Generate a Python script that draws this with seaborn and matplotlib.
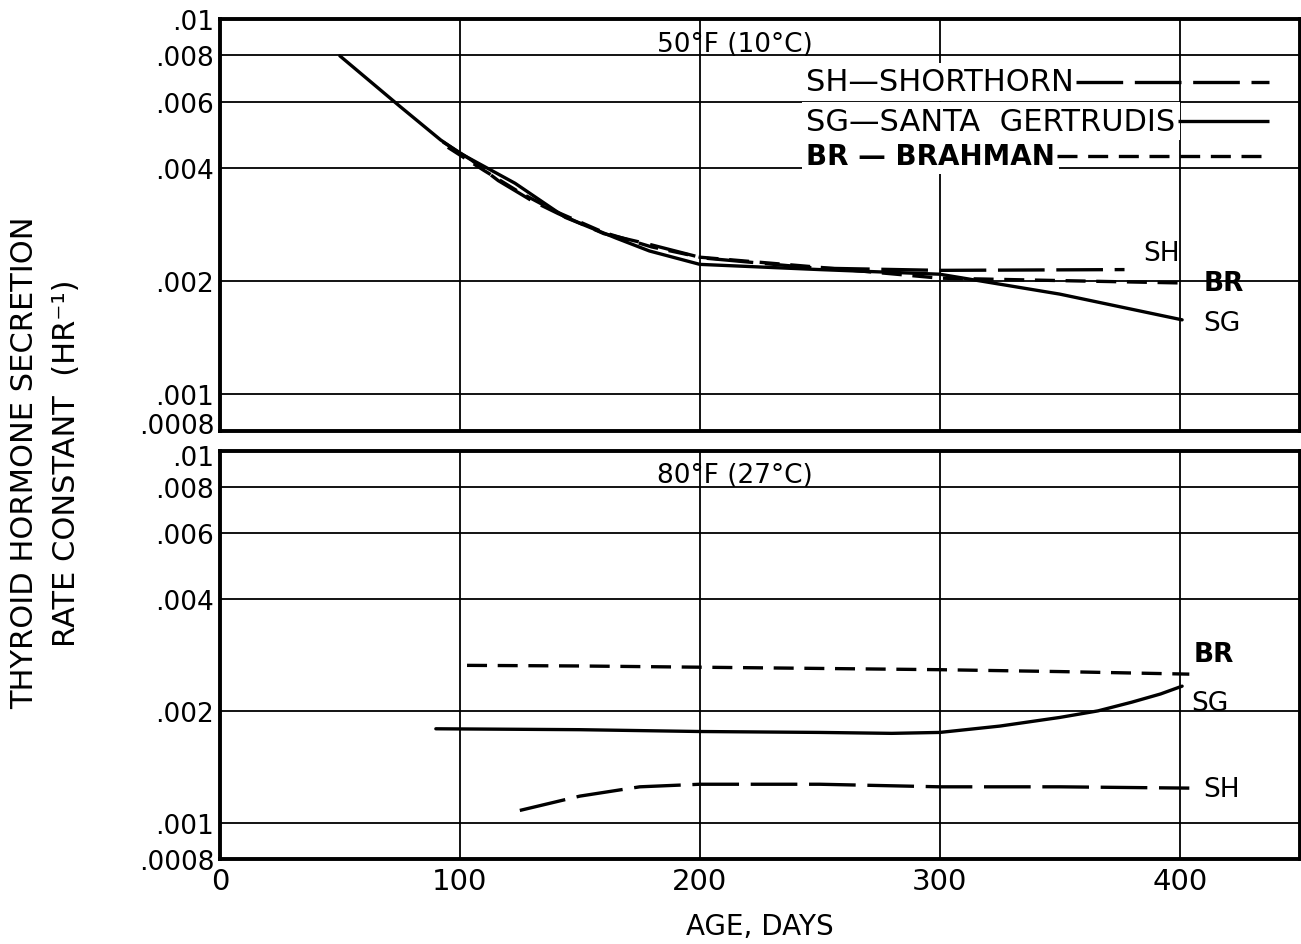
import pandas as pd
import matplotlib
matplotlib.use("Agg")
import matplotlib.pyplot as plt
from matplotlib.ticker import NullLocator
from matplotlib.transforms import ScaledTranslation
import seaborn as sns

# 50°F (10°C) panel
cold_sg_age = [50, 75, 92, 100, 123, 144, 165, 179, 200, 250, 300, 350, 401]
cold_sg_rate = [0.00797, 0.00585, 0.00476, 0.00439, 0.00365, 0.00296, 0.00261,
                0.00241, 0.00222, 0.00215, 0.00209, 0.00185, 0.00158]
cold_sh_age = [93, 105, 116, 130, 141, 160, 179, 201, 248, 300, 377]
cold_sh_rate = [0.00470, 0.00420, 0.00371, 0.00328, 0.00303, 0.00268, 0.00251,
                0.00231, 0.00217, 0.00214, 0.00215]
cold_br_age = [95, 110, 125, 140, 160, 180, 200, 250, 300, 350, 402]
cold_br_rate = [0.00455, 0.00395, 0.00345, 0.00307, 0.00270, 0.00247, 0.00232,
                0.00218, 0.00204, 0.00201, 0.00198]

# 80°F (27°C) panel
hot_br_age = [103, 150, 200, 250, 300, 350, 404]
hot_br_rate = [0.00265, 0.00264, 0.00262, 0.00260, 0.00258, 0.00255, 0.00251]
hot_sg_age = [90, 150, 200, 250, 280, 300, 325, 350, 366, 380, 392, 401]
hot_sg_rate = [0.00179, 0.00178, 0.00176, 0.00175, 0.00174, 0.00175, 0.00182,
               0.00192, 0.00200, 0.00211, 0.00222, 0.00233]
hot_sh_age = [125, 150, 175, 200, 250, 300, 350, 404]
hot_sh_rate = [0.00108, 0.00118, 0.00125, 0.00127, 0.00127, 0.00125, 0.00125, 0.00124]

y_ticks = [0.0008, 0.001, 0.002, 0.004, 0.006, 0.008, 0.01]
y_labels = [".0008", ".001", ".002", ".004", ".006", ".008", ".01"]
x_ticks = [0, 100, 200, 300, 400]

legend_rows = [("SH", "SH—SHORTHORN", "normal"),
               ("SG", "SG—SANTA  GERTRUDIS", "normal"),
               ("BR", "BR — BRAHMAN", "bold")]

def frame(age, rate, panel, breed):
    return pd.DataFrame({"age": age, "rate": rate, "panel": panel, "breed": breed})

df = pd.concat([
    frame(cold_sg_age, cold_sg_rate, "cold", "SG"),
    frame(cold_sh_age, cold_sh_rate, "cold", "SH"),
    frame(cold_br_age, cold_br_rate, "cold", "BR"),
    frame(hot_br_age, hot_br_rate, "hot", "BR"),
    frame(hot_sg_age, hot_sg_rate, "hot", "SG"),
    frame(hot_sh_age, hot_sh_rate, "hot", "SH"),
])

sns.set_style("white")
plt.rcParams["font.family"] = ["DejaVu Sans"]
plt.rcParams["text.color"] = "black"
plt.rcParams["axes.labelcolor"] = "black"

dash_map = {"SH": (14, 3.5), "SG": "", "BR": (6, 3.2)}

fig = plt.figure(figsize=(13.01, 9.45), dpi=100)
ax_top = fig.add_axes([0.169, 0.543, 0.830, 0.436])
ax_bot = fig.add_axes([0.169, 0.090, 0.830, 0.432])

for ax, panel in [(ax_top, "cold"), (ax_bot, "hot")]:
    sns.lineplot(data=df[df["panel"] == panel], x="age", y="rate", style="breed",
                 dashes=dash_map, color="black", linewidth=2.4, legend=False,
                 estimator=None, sort=True, ax=ax, zorder=4)
    ax.set_yscale("log")
    ax.set_ylim(0.0008, 0.01)
    ax.set_xlim(0, 450)
    ax.set_yticks(y_ticks)
    ax.set_yticklabels(y_labels)
    ax.yaxis.set_minor_locator(NullLocator())
    ax.set_xticks(x_ticks)
    ax.grid(True, color="black", linewidth=1.3)
    ax.tick_params(length=0, pad=4, colors="black")
    ax.tick_params(axis="x", labelsize=21, pad=6)
    ax.tick_params(axis="y", labelsize=19)
    for s in ax.spines.values():
        s.set_visible(True)
        s.set_color("black")
        s.set_linewidth(2.8)
    ax.set_xlabel("")
    ax.set_ylabel("")

ax_top.tick_params(labelbottom=False)
# nudge the labels that meet between the two panels
lab = ax_top.get_yticklabels()[0]
lab.set_transform(lab.get_transform() + ScaledTranslation(0, 8 / 100, fig.dpi_scale_trans))
lab = ax_bot.get_yticklabels()[-1]
lab.set_transform(lab.get_transform() + ScaledTranslation(0, -4 / 100, fig.dpi_scale_trans))
ax_bot.set_xlabel("AGE, DAYS", fontsize=20, labelpad=12)

ax_top.text(0.477, 0.94, "50°F (10°C)", transform=ax_top.transAxes,
            ha="center", va="center", fontsize=19)
ax_bot.text(0.477, 0.94, "80°F (27°C)", transform=ax_bot.transAxes,
            ha="center", va="center", fontsize=19)

# curve labels
ax_top.text(385, 0.00238, "SH", fontsize=19, ha="left", va="center")
ax_top.text(410, 0.00198, "BR", fontsize=19, ha="left", va="center", fontweight="bold")
ax_top.text(410, 0.00155, "SG", fontsize=19, ha="left", va="center")
ax_bot.text(406, 0.00284, "BR", fontsize=19, ha="left", va="center", fontweight="bold")
ax_bot.text(405, 0.00210, "SG", fontsize=19, ha="left", va="center")
ax_bot.text(410, 0.00123, "SH", fontsize=19, ha="left", va="center")

# legend block
row_y = [0.847, 0.752, 0.667]
texts = []
for (breed, label, weight), y in zip(legend_rows, row_y):
    t = ax_top.text(0.543, y, label, transform=ax_top.transAxes, ha="left",
                    va="center", fontsize=22 if weight == "normal" else 20,
                    fontweight=weight, zorder=5,
                    bbox=dict(facecolor="white", edgecolor="none", pad=3))
    texts.append(t)
fig.canvas.draw()
renderer = fig.canvas.get_renderer()
inv = ax_top.transAxes.inverted()
for t, (breed, label, weight), y in zip(texts, legend_rows, row_y):
    bb = t.get_window_extent(renderer)
    x0 = inv.transform((bb.x1, bb.y0))[0] + 0.002
    ax_top.plot([x0, 0.972], [y, y], transform=ax_top.transAxes, color="black",
                linewidth=2.4, dashes=dash_map[breed] if dash_map[breed] else (1, 0),
                zorder=6, solid_capstyle="butt")

fig.text(0.035, 0.51, "THYROID HORMONE SECRETION\nRATE CONSTANT  (HR⁻¹)",
         rotation=90, ha="center", va="center", fontsize=22, linespacing=1.6)

fig.savefig("out.png", dpi=100)
